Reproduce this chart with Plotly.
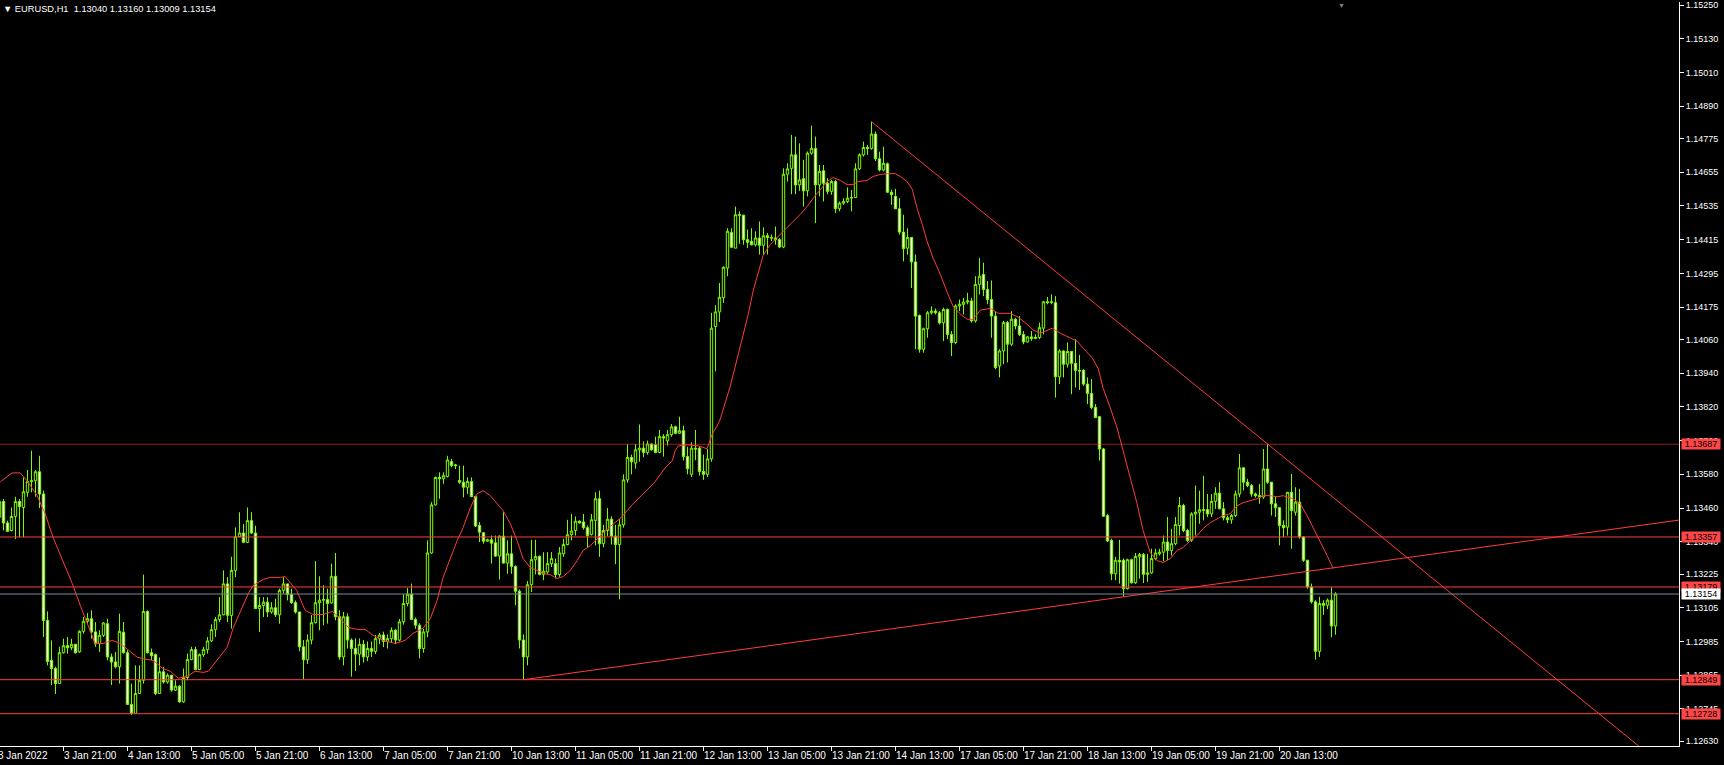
import plotly.graph_objects as go

# ---------------- data (EURUSD H1, bar 0 = 3 Jan 2022 05:00) ----------------
OPEN = [
    1.13427, 1.13483, 1.13407, 1.13380, 1.13430, 1.13483, 1.13462, 1.13516, 1.13554, 1.13557,
    1.13589, 1.13510, 1.13060, 1.12918, 1.12889, 1.12835, 1.12945, 1.12970, 1.12963, 1.12975,
    1.12948, 1.13021, 1.13057, 1.13066, 1.13019, 1.12977, 1.13007, 1.13048, 1.12930, 1.12912,
    1.12895, 1.13018, 1.12945, 1.12761, 1.12729, 1.12800, 1.12847, 1.13092, 1.12945, 1.12938,
    1.12800, 1.12877, 1.12841, 1.12865, 1.12812, 1.12826, 1.12770, 1.12857, 1.12921, 1.12956,
    1.12885, 1.12938, 1.12956, 1.12987, 1.13027, 1.13063, 1.13080, 1.13190, 1.13078, 1.13238,
    1.13358, 1.13371, 1.13338, 1.13415, 1.13371, 1.13102, 1.13113, 1.13125, 1.13090, 1.13105,
    1.13080, 1.13167, 1.13190, 1.13152, 1.13123, 1.13090, 1.12966, 1.12920, 1.12990, 1.13052,
    1.13123, 1.13132, 1.13134, 1.13122, 1.13217, 1.13073, 1.12930, 1.13073, 1.12990, 1.12960,
    1.12940, 1.12975, 1.12930, 1.12960, 1.12950, 1.12995, 1.13008, 1.12985, 1.12995, 1.13025,
    1.12990, 1.13055, 1.13120, 1.13153, 1.13063, 1.13043, 1.12960, 1.13019, 1.13300, 1.13471,
    1.13569, 1.13564, 1.13572, 1.13625, 1.13611, 1.13558, 1.13552, 1.13534, 1.13554, 1.13501,
    1.13398, 1.13372, 1.13342, 1.13347, 1.13336, 1.13289, 1.13360, 1.13264, 1.13297, 1.13252,
    1.13164, 1.12990, 1.12930, 1.13187, 1.13276, 1.13288, 1.13224, 1.13232, 1.13262, 1.13262,
    1.13223, 1.13297, 1.13330, 1.13366, 1.13380, 1.13413, 1.13410, 1.13390, 1.13366, 1.13416,
    1.13493, 1.13333, 1.13380, 1.13420, 1.13360, 1.13330, 1.13400, 1.13560, 1.13640, 1.13620,
    1.13667, 1.13673, 1.13658, 1.13688, 1.13685, 1.13658, 1.13714, 1.13699, 1.13721, 1.13749,
    1.13726, 1.13735, 1.13643, 1.13580, 1.13673, 1.13673, 1.13590, 1.13580, 1.13635, 1.14106,
    1.14158, 1.14208, 1.14314, 1.14441, 1.14385, 1.14504, 1.14502, 1.14415, 1.14409, 1.14397,
    1.14421, 1.14395, 1.14429, 1.14423, 1.14421, 1.14415, 1.14389, 1.14648, 1.14669, 1.14717,
    1.14610, 1.14632, 1.14589, 1.14723, 1.14740, 1.14610, 1.14660, 1.14616, 1.14587, 1.14622,
    1.14525, 1.14545, 1.14551, 1.14563, 1.14565, 1.14667, 1.14717, 1.14743, 1.14740, 1.14791,
    1.14703, 1.14663, 1.14685, 1.14584, 1.14569, 1.14525, 1.14442, 1.14385, 1.14423, 1.14336,
    1.14145, 1.14025, 1.14098, 1.14155, 1.14161, 1.14155, 1.14119, 1.14167, 1.14078, 1.14049,
    1.14179, 1.14185, 1.14193, 1.14197, 1.14126, 1.14256, 1.14291, 1.14238, 1.14202, 1.14143,
    1.13966, 1.14019, 1.14120, 1.14043, 1.14132, 1.14108, 1.14078, 1.14051, 1.14069, 1.14063,
    1.14067, 1.14100, 1.14194, 1.14191, 1.14191, 1.13927, 1.14019, 1.13972, 1.14017, 1.13975,
    1.13950, 1.13950, 1.13901, 1.13868, 1.13818, 1.13785, 1.13670, 1.13433, 1.13345, 1.13226,
    1.13274, 1.13274, 1.13173, 1.13276, 1.13194, 1.13286, 1.13295, 1.13224, 1.13229, 1.13280,
    1.13297, 1.13303, 1.13339, 1.13309, 1.13333, 1.13398, 1.13469, 1.13380, 1.13345, 1.13439,
    1.13445, 1.13451, 1.13454, 1.13439, 1.13484, 1.13513, 1.13457, 1.13425, 1.13418, 1.13433,
    1.13510, 1.13603, 1.13552, 1.13540, 1.13510, 1.13504, 1.13499, 1.13599, 1.13552, 1.13475,
    1.13461, 1.13398, 1.13392, 1.13516, 1.13445, 1.13481, 1.13357, 1.13274, 1.13179, 1.13126,
    1.12950, 1.13120, 1.13114, 1.13132, 1.13040,
]
HIGH = [
    1.13492, 1.13492, 1.13415, 1.13462, 1.13500, 1.13492, 1.13569, 1.13595, 1.13664, 1.13595,
    1.13646, 1.13522, 1.13092, 1.12989, 1.12895, 1.12966, 1.12995, 1.13001, 1.12995, 1.12975,
    1.13025, 1.13072, 1.13086, 1.13096, 1.13054, 1.13025, 1.13054, 1.13066, 1.12942, 1.12948,
    1.13084, 1.13054, 1.12954, 1.12835, 1.12900, 1.12900, 1.13223, 1.13096, 1.12960, 1.12942,
    1.12928, 1.12895, 1.12871, 1.12865, 1.12847, 1.12830, 1.12889, 1.12942, 1.12966, 1.12966,
    1.12942, 1.12966, 1.13001, 1.13046, 1.13072, 1.13143, 1.13238, 1.13214, 1.13287, 1.13391,
    1.13445, 1.13403, 1.13462, 1.13445, 1.13397, 1.13143, 1.13143, 1.13143, 1.13125, 1.13137,
    1.13173, 1.13214, 1.13190, 1.13173, 1.13131, 1.13090, 1.12990, 1.13010, 1.13079, 1.13271,
    1.13217, 1.13185, 1.13173, 1.13262, 1.13300, 1.13096, 1.13090, 1.13085, 1.12996, 1.12996,
    1.12996, 1.12990, 1.12985, 1.12985, 1.13008, 1.13015, 1.13020, 1.13010, 1.13035, 1.13030,
    1.13065, 1.13153, 1.13175, 1.13191, 1.13070, 1.13050, 1.13030, 1.13345, 1.13481, 1.13572,
    1.13587, 1.13587, 1.13646, 1.13635, 1.13617, 1.13611, 1.13611, 1.13569, 1.13569, 1.13504,
    1.13410, 1.13374, 1.13351, 1.13362, 1.13362, 1.13362, 1.13445, 1.13345, 1.13362, 1.13256,
    1.13170, 1.13010, 1.13200, 1.13347, 1.13347, 1.13291, 1.13303, 1.13303, 1.13303, 1.13280,
    1.13321, 1.13351, 1.13418, 1.13439, 1.13430, 1.13416, 1.13439, 1.13398, 1.13439, 1.13516,
    1.13522, 1.13400, 1.13460, 1.13430, 1.13400, 1.13420, 1.13580, 1.13687, 1.13650, 1.13688,
    1.13757, 1.13697, 1.13700, 1.13690, 1.13714, 1.13738, 1.13723, 1.13738, 1.13759, 1.13753,
    1.13785, 1.13753, 1.13678, 1.13694, 1.13738, 1.13680, 1.13650, 1.13670, 1.14155, 1.14182,
    1.14261, 1.14320, 1.14456, 1.14456, 1.14533, 1.14516, 1.14504, 1.14451, 1.14456, 1.14445,
    1.14480, 1.14459, 1.14439, 1.14433, 1.14462, 1.14421, 1.14669, 1.14687, 1.14788, 1.14782,
    1.14758, 1.14699, 1.14729, 1.14821, 1.14782, 1.14681, 1.14681, 1.14634, 1.14628, 1.14628,
    1.14551, 1.14563, 1.14601, 1.14592, 1.14687, 1.14722, 1.14764, 1.14752, 1.14835, 1.14800,
    1.14728, 1.14746, 1.14690, 1.14593, 1.14596, 1.14563, 1.14504, 1.14456, 1.14423, 1.14362,
    1.14149, 1.14102, 1.14161, 1.14178, 1.14170, 1.14161, 1.14173, 1.14170, 1.14090, 1.14185,
    1.14202, 1.14208, 1.14226, 1.14208, 1.14285, 1.14350, 1.14333, 1.14268, 1.14270, 1.14161,
    1.14025, 1.14126, 1.14126, 1.14161, 1.14137, 1.14143, 1.14090, 1.14072, 1.14090, 1.14078,
    1.14120, 1.14197, 1.14211, 1.14220, 1.14214, 1.14025, 1.14021, 1.14049, 1.14017, 1.14061,
    1.14005, 1.13954, 1.13925, 1.13919, 1.13830, 1.13788, 1.13674, 1.13439, 1.13351, 1.13286,
    1.13347, 1.13280, 1.13280, 1.13280, 1.13300, 1.13300, 1.13300, 1.13297, 1.13315, 1.13315,
    1.13315, 1.13362, 1.13428, 1.13386, 1.13428, 1.13499, 1.13475, 1.13386, 1.13445, 1.13540,
    1.13522, 1.13575, 1.13510, 1.13510, 1.13534, 1.13552, 1.13481, 1.13433, 1.13439, 1.13522,
    1.13652, 1.13605, 1.13564, 1.13546, 1.13515, 1.13546, 1.13670, 1.13688, 1.13552, 1.13499,
    1.13463, 1.13416, 1.13516, 1.13581, 1.13534, 1.13528, 1.13360, 1.13276, 1.13191, 1.13132,
    1.13144, 1.13132, 1.13138, 1.13178, 1.13160,
]
LOW = [
    1.13415, 1.13380, 1.13374, 1.13377, 1.13350, 1.13356, 1.13356, 1.13500, 1.13516, 1.13500,
    1.13460, 1.13001, 1.12900, 1.12830, 1.12798, 1.12835, 1.12942, 1.12942, 1.12954, 1.12942,
    1.12945, 1.13013, 1.13048, 1.12995, 1.12966, 1.12948, 1.13001, 1.12918, 1.12830, 1.12889,
    1.12835, 1.12942, 1.12759, 1.12723, 1.12729, 1.12798, 1.12835, 1.12942, 1.12918, 1.12794,
    1.12798, 1.12835, 1.12835, 1.12806, 1.12809, 1.12767, 1.12767, 1.12847, 1.12918, 1.12883,
    1.12883, 1.12930, 1.12942, 1.12983, 1.13001, 1.13054, 1.13078, 1.13054, 1.13031, 1.13214,
    1.13356, 1.13335, 1.13335, 1.13368, 1.13102, 1.13019, 1.13072, 1.13072, 1.13084, 1.13072,
    1.13048, 1.13155, 1.13131, 1.13119, 1.13084, 1.12950, 1.12850, 1.12905, 1.12975, 1.13049,
    1.13025, 1.13043, 1.13049, 1.13120, 1.13060, 1.12920, 1.12900, 1.12960, 1.12860, 1.12880,
    1.12900, 1.12910, 1.12915, 1.12930, 1.12940, 1.12975, 1.12965, 1.12960, 1.12980, 1.12975,
    1.12985, 1.13045, 1.13110, 1.13061, 1.13030, 1.12925, 1.12945, 1.13000, 1.13297, 1.13469,
    1.13493, 1.13546, 1.13569, 1.13605, 1.13599, 1.13546, 1.13498, 1.13510, 1.13498, 1.13392,
    1.13339, 1.13333, 1.13339, 1.13262, 1.13286, 1.13205, 1.13262, 1.13226, 1.13226, 1.13114,
    1.12960, 1.12849, 1.12900, 1.13161, 1.13224, 1.13220, 1.13203, 1.13226, 1.13250, 1.13209,
    1.13215, 1.13286, 1.13327, 1.13345, 1.13362, 1.13404, 1.13383, 1.13321, 1.13362, 1.13327,
    1.13286, 1.13320, 1.13360, 1.13330, 1.13260, 1.13135, 1.13390, 1.13550, 1.13580, 1.13600,
    1.13625, 1.13641, 1.13650, 1.13664, 1.13655, 1.13655, 1.13643, 1.13682, 1.13714, 1.13723,
    1.13723, 1.13629, 1.13580, 1.13570, 1.13630, 1.13575, 1.13560, 1.13570, 1.13625, 1.13946,
    1.14122, 1.14190, 1.14285, 1.14385, 1.14385, 1.14400, 1.14397, 1.14385, 1.14395, 1.14391,
    1.14362, 1.14362, 1.14362, 1.14410, 1.14397, 1.14385, 1.14385, 1.14622, 1.14577, 1.14577,
    1.14589, 1.14533, 1.14569, 1.14717, 1.14474, 1.14569, 1.14551, 1.14577, 1.14575, 1.14510,
    1.14516, 1.14539, 1.14545, 1.14516, 1.14563, 1.14663, 1.14711, 1.14717, 1.14735, 1.14695,
    1.14658, 1.14658, 1.14581, 1.14539, 1.14525, 1.14433, 1.14338, 1.14362, 1.14243, 1.14025,
    1.14013, 1.14013, 1.14066, 1.14149, 1.14149, 1.14113, 1.14054, 1.14061, 1.14001, 1.14043,
    1.14161, 1.14149, 1.14185, 1.14120, 1.14120, 1.14220, 1.14214, 1.14185, 1.14066, 1.13954,
    1.13925, 1.13972, 1.13978, 1.14037, 1.14096, 1.14072, 1.14043, 1.14049, 1.14055, 1.14061,
    1.14061, 1.14078, 1.14185, 1.14185, 1.13853, 1.13901, 1.13925, 1.13960, 1.13865, 1.13889,
    1.13880, 1.13895, 1.13830, 1.13812, 1.13780, 1.13629, 1.13428, 1.13339, 1.13203, 1.13203,
    1.13191, 1.13144, 1.13170, 1.13191, 1.13190, 1.13209, 1.13193, 1.13197, 1.13226, 1.13274,
    1.13291, 1.13271, 1.13274, 1.13291, 1.13327, 1.13362, 1.13374, 1.13339, 1.13339, 1.13362,
    1.13404, 1.13416, 1.13428, 1.13428, 1.13457, 1.13457, 1.13416, 1.13406, 1.13404, 1.13428,
    1.13499, 1.13522, 1.13534, 1.13500, 1.13497, 1.13475, 1.13493, 1.13546, 1.13433, 1.13428,
    1.13327, 1.13357, 1.13362, 1.13315, 1.13433, 1.13351, 1.13268, 1.13173, 1.13120, 1.12920,
    1.12930, 1.13080, 1.13100, 1.13000, 1.13009,
]
CLOSE = [
    1.13483, 1.13407, 1.13377, 1.13430, 1.13483, 1.13465, 1.13518, 1.13554, 1.13557, 1.13589,
    1.13510, 1.13060, 1.12914, 1.12889, 1.12835, 1.12945, 1.12970, 1.12963, 1.12975, 1.12945,
    1.13021, 1.13057, 1.13066, 1.13019, 1.12977, 1.13007, 1.13051, 1.12930, 1.12912, 1.12895,
    1.13021, 1.12945, 1.12761, 1.12729, 1.12800, 1.12847, 1.13092, 1.12945, 1.12934, 1.12800,
    1.12877, 1.12841, 1.12865, 1.12812, 1.12826, 1.12770, 1.12857, 1.12921, 1.12956, 1.12885,
    1.12938, 1.12956, 1.12987, 1.13027, 1.13063, 1.13080, 1.13190, 1.13078, 1.13238, 1.13358,
    1.13371, 1.13338, 1.13415, 1.13371, 1.13102, 1.13113, 1.13125, 1.13090, 1.13105, 1.13080,
    1.13167, 1.13190, 1.13152, 1.13123, 1.13090, 1.12966, 1.12920, 1.12990, 1.13052, 1.13123,
    1.13132, 1.13134, 1.13120, 1.13217, 1.13073, 1.12930, 1.13073, 1.12990, 1.12960, 1.12940,
    1.12975, 1.12930, 1.12960, 1.12950, 1.12995, 1.13008, 1.12985, 1.12995, 1.13025, 1.12990,
    1.13055, 1.13120, 1.13153, 1.13063, 1.13043, 1.12960, 1.13019, 1.13300, 1.13471, 1.13569,
    1.13564, 1.13575, 1.13631, 1.13611, 1.13613, 1.13552, 1.13534, 1.13554, 1.13501, 1.13396,
    1.13374, 1.13342, 1.13347, 1.13335, 1.13289, 1.13360, 1.13264, 1.13297, 1.13252, 1.13164,
    1.12990, 1.12930, 1.13187, 1.13276, 1.13288, 1.13224, 1.13235, 1.13262, 1.13280, 1.13223,
    1.13300, 1.13330, 1.13365, 1.13378, 1.13413, 1.13407, 1.13390, 1.13362, 1.13418, 1.13493,
    1.13333, 1.13380, 1.13420, 1.13360, 1.13330, 1.13400, 1.13560, 1.13640, 1.13625, 1.13667,
    1.13673, 1.13658, 1.13688, 1.13667, 1.13658, 1.13714, 1.13709, 1.13721, 1.13749, 1.13726,
    1.13735, 1.13643, 1.13600, 1.13673, 1.13670, 1.13590, 1.13580, 1.13635, 1.14100, 1.14158,
    1.14210, 1.14317, 1.14445, 1.14388, 1.14504, 1.14502, 1.14415, 1.14406, 1.14397, 1.14421,
    1.14395, 1.14429, 1.14423, 1.14421, 1.14415, 1.14389, 1.14648, 1.14667, 1.14717, 1.14610,
    1.14628, 1.14589, 1.14723, 1.14740, 1.14610, 1.14658, 1.14616, 1.14587, 1.14622, 1.14525,
    1.14545, 1.14551, 1.14563, 1.14565, 1.14667, 1.14717, 1.14743, 1.14740, 1.14791, 1.14703,
    1.14663, 1.14687, 1.14584, 1.14575, 1.14525, 1.14442, 1.14383, 1.14423, 1.14336, 1.14143,
    1.14025, 1.14098, 1.14155, 1.14161, 1.14155, 1.14119, 1.14167, 1.14078, 1.14049, 1.14179,
    1.14185, 1.14193, 1.14197, 1.14126, 1.14256, 1.14285, 1.14238, 1.14202, 1.14143, 1.13960,
    1.14019, 1.14120, 1.14043, 1.14132, 1.14108, 1.14078, 1.14051, 1.14069, 1.14063, 1.14067,
    1.14102, 1.14194, 1.14191, 1.14194, 1.13927, 1.14019, 1.13972, 1.14017, 1.13975, 1.13950,
    1.13948, 1.13901, 1.13868, 1.13818, 1.13782, 1.13670, 1.13431, 1.13343, 1.13226, 1.13274,
    1.13268, 1.13173, 1.13276, 1.13194, 1.13288, 1.13295, 1.13224, 1.13229, 1.13280, 1.13300,
    1.13303, 1.13339, 1.13309, 1.13333, 1.13401, 1.13469, 1.13380, 1.13345, 1.13439, 1.13445,
    1.13454, 1.13454, 1.13439, 1.13484, 1.13513, 1.13457, 1.13425, 1.13418, 1.13433, 1.13510,
    1.13603, 1.13552, 1.13540, 1.13510, 1.13504, 1.13500, 1.13599, 1.13552, 1.13475, 1.13461,
    1.13398, 1.13390, 1.13516, 1.13451, 1.13481, 1.13357, 1.13274, 1.13179, 1.13126, 1.12950,
    1.13120, 1.13114, 1.13132, 1.13040, 1.13154,
]

# moving average (red curve), read at sampled bar positions
MA_BARS = [
    0.2, 3.1, 5.2, 6.9, 9.4, 11.4, 13.4, 15.9, 18.2, 20.2,
    21.9, 23.9, 25.9, 28.2, 30.2, 32.2, 34.4, 36.4, 38.4, 40.7,
    42.7, 44.7, 46.9, 48.9, 50.9, 52.2, 54.4, 56.9, 58.4, 60.2,
    62.2, 63.4, 65.9, 67.7, 70.2, 71.4, 72.7, 74.3, 76.4, 78.4,
    80.9, 83.2, 85.2, 87.2, 89.4, 91.4, 93.4, 95.9, 98.9, 101.4,
    103.4, 105.9, 107.7, 109.4, 110.9, 112.7, 114.4, 115.9, 117.7, 119.4,
    120.9, 122.7, 124.4, 125.9, 127.7, 129.4, 130.9, 132.7, 134.4, 135.9,
    137.7, 139.4, 140.9, 142.7, 144.4, 145.9, 147.7, 149.4, 150.2, 152.7,
    155.4, 158.2, 160.9, 163.7, 166.4, 168.2, 168.9, 169.7, 172.0, 174.7,
    176.9, 178.2, 179.4, 180.2, 182.7, 184.9, 185.9, 187.2, 188.4, 189.7,
    190.9, 192.7, 195.2, 196.9, 198.4, 200.2, 201.9, 203.4, 205.2, 206.9,
    208.4, 210.2, 211.9, 213.4, 214.7, 216.9, 218.4, 220.2, 221.9, 223.9,
    225.2, 226.9, 228.2, 229.4, 230.7, 231.9, 233.4, 235.2, 236.9, 238.4,
    240.2, 241.9, 243.4, 245.2, 247.7, 249.7, 252.7, 254.7, 256.9, 258.4,
    260.2, 261.9, 263.2, 265.2, 267.7, 269.4, 270.9, 273.2, 274.7, 275.9,
    277.7, 279.4, 280.9, 282.7, 284.4, 285.9, 287.7, 289.4, 290.9, 292.7,
    294.4, 295.9, 297.7, 299.4, 300.9, 302.7, 304.4, 305.9, 307.7, 309.4,
    310.9, 312.7, 314.4, 315.9, 317.7, 319.4, 320.9, 323.4, 325.2, 326.9,
    328.4, 330.2, 331.9, 333.4,
]
MA_VALS = [
    1.13553, 1.13585, 1.13585, 1.13557, 1.13504, 1.13440, 1.13355, 1.13273, 1.13191, 1.13113,
    1.13049, 1.12978, 1.12978, 1.12989, 1.12978, 1.12954, 1.12929, 1.12922, 1.12918, 1.12890,
    1.12879, 1.12854, 1.12861, 1.12879, 1.12875, 1.12879, 1.12918, 1.12964, 1.13032, 1.13088,
    1.13156, 1.13184, 1.13206, 1.13213, 1.13213, 1.13216, 1.13195, 1.13167, 1.13096, 1.13081,
    1.13081, 1.13092, 1.13067, 1.13035, 1.13028, 1.13028, 1.13007, 1.12989, 1.12978, 1.12989,
    1.13014, 1.13032, 1.13067, 1.13131, 1.13213, 1.13284, 1.13344, 1.13390, 1.13461, 1.13511,
    1.13522, 1.13504, 1.13475, 1.13451, 1.13404, 1.13344, 1.13280, 1.13248, 1.13238, 1.13227,
    1.13223, 1.13209, 1.13216, 1.13238, 1.13273, 1.13309, 1.13326, 1.13351, 1.13362, 1.13394,
    1.13426, 1.13472, 1.13511, 1.13550, 1.13603, 1.13628, 1.13664, 1.13681, 1.13685, 1.13681,
    1.13671, 1.13724, 1.13752, 1.13777, 1.13894, 1.14019, 1.14079, 1.14150, 1.14232, 1.14303,
    1.14359, 1.14398, 1.14434, 1.14462, 1.14480, 1.14505, 1.14533, 1.14562, 1.14594, 1.14622,
    1.14636, 1.14626, 1.14611, 1.14611, 1.14622, 1.14626, 1.14640, 1.14647, 1.14650, 1.14650,
    1.14640, 1.14622, 1.14594, 1.14526, 1.14469, 1.14409, 1.14349, 1.14292, 1.14228, 1.14178,
    1.14150, 1.14132, 1.14132, 1.14164, 1.14171, 1.14153, 1.14153, 1.14139, 1.14114, 1.14093,
    1.14082, 1.14093, 1.14100, 1.14082, 1.14065, 1.14054, 1.14029, 1.13994, 1.13955, 1.13887,
    1.13816, 1.13745, 1.13664, 1.13568, 1.13475, 1.13380, 1.13301, 1.13273, 1.13266, 1.13280,
    1.13309, 1.13319, 1.13344, 1.13362, 1.13387, 1.13408, 1.13422, 1.13433, 1.13440, 1.13468,
    1.13479, 1.13486, 1.13493, 1.13504, 1.13504, 1.13500, 1.13504, 1.13493, 1.13475, 1.13433,
    1.13390, 1.13344, 1.13291, 1.13245,
]

# time axis labels (every 16 bars)
TICK_BARS = [16, 32, 48, 64, 80, 96, 112, 128, 144, 160,
             176, 192, 208, 224, 240, 256, 272, 288, 304, 320]
TICK_TEXT = ["3 Jan 21:00", "4 Jan 13:00", "5 Jan 05:00", "5 Jan 21:00", "6 Jan 13:00",
             "7 Jan 05:00", "7 Jan 21:00", "10 Jan 13:00", "11 Jan 05:00", "11 Jan 21:00",
             "12 Jan 13:00", "13 Jan 05:00", "13 Jan 21:00", "14 Jan 13:00", "17 Jan 05:00",
             "17 Jan 21:00", "18 Jan 13:00", "19 Jan 05:00", "19 Jan 21:00", "20 Jan 13:00"]
FIRST_LABEL = "3 Jan 2022"

Y_TICKS = [1.15250, 1.15130, 1.15010, 1.14890, 1.14775, 1.14655, 1.14535, 1.14415,
           1.14295, 1.14175, 1.14060, 1.13940, 1.13820, 1.13700, 1.13580, 1.13460,
           1.13340, 1.13225, 1.13105, 1.12985, 1.12865, 1.12745, 1.12630]

LEVELS = [1.13687, 1.13357, 1.13179, 1.12849, 1.12728]
LEVEL_OPACITY = [0.55, 1, 1, 1, 1]
BID = 1.13154

TREND_UP_BARS = [131, 281]
TREND_UP_PRICES = [1.12849, 1.13144]
TREND_DN_BARS = [218, 317]
TREND_DN_PRICES = [1.14835, 1.13688]

SYMBOL = "EURUSD,H1"
X_RANGE = [0.125, 419.875]
Y_RANGE = [1.12613, 1.15261]

# ---------------- styling ----------------
GREEN = "#7CFC00"
RED = "#ff3c3c"
TAG_RED = "#ff4646"
GRAY = "#7b8797"
FONT = "Liberation Sans, Arial, sans-serif"

bars = list(range(len(CLOSE)))

fig = go.Figure()
fig.add_trace(go.Candlestick(
    x=bars, open=OPEN, high=HIGH, low=LOW, close=CLOSE,
    increasing=dict(line=dict(color=GREEN, width=1), fillcolor="black"),
    decreasing=dict(line=dict(color=GREEN, width=1), fillcolor="white"),
    whiskerwidth=0, hoverinfo="skip", showlegend=False,
))
fig.add_trace(go.Scatter(
    x=MA_BARS, y=MA_VALS, mode="lines",
    line=dict(color=RED, width=1), hoverinfo="skip", showlegend=False,
))


def extended(bx, py, x_end):
    slope = (py[1] - py[0]) / (bx[1] - bx[0])
    return [bx[0], bx[1], x_end], [py[0], py[1], py[0] + slope * (x_end - bx[0])]


for bx, py in ((TREND_UP_BARS, TREND_UP_PRICES), (TREND_DN_BARS, TREND_DN_PRICES)):
    xs, ys = extended(bx, py, X_RANGE[1])
    fig.add_trace(go.Scatter(x=xs, y=ys, mode="lines", line=dict(color=RED, width=1),
                             hoverinfo="skip", showlegend=False))

shapes = []
for lv, op in zip(LEVELS, LEVEL_OPACITY):
    shapes.append(dict(type="line", xref="paper", x0=0, x1=1, yref="y", y0=lv, y1=lv,
                       opacity=op, line=dict(color=RED, width=1)))
shapes.append(dict(type="line", xref="paper", x0=0, x1=1, yref="y", y0=BID, y1=BID,
                   line=dict(color=GRAY, width=1)))

annotations = []
# price tags on the right scale
for lv in LEVELS:
    annotations.append(dict(xref="paper", x=1, xanchor="left", xshift=2, yref="y", y=lv,
                            yanchor="middle", text=f"{lv:.5f}", showarrow=False,
                            bgcolor=TAG_RED, borderpad=0, width=38, height=10,
                            font=dict(family=FONT, size=9, color="black")))
annotations.append(dict(xref="paper", x=1, xanchor="left", xshift=2, yref="y", y=BID,
                        yanchor="middle", text=f"{BID:.5f}", showarrow=False,
                        bgcolor="white", borderpad=0, width=38, height=10,
                        font=dict(family=FONT, size=9, color="black")))
# time labels
XLAB_SIZE = 10
for b, t in zip(TICK_BARS, TICK_TEXT):
    annotations.append(dict(xref="x", x=b, xanchor="left", xshift=-2, yref="paper", y=0,
                            yanchor="top", yshift=-2, text=t, showarrow=False,
                            font=dict(family=FONT, size=XLAB_SIZE, color="white")))
annotations.append(dict(xref="paper", x=0, xanchor="left", xshift=-4, yref="paper", y=0,
                        yanchor="top", yshift=-2, text=FIRST_LABEL, showarrow=False,
                        font=dict(family=FONT, size=XLAB_SIZE, color="white")))
# header
header = "\u25bc " + SYMBOL + "\u00a0\u00a0" + " ".join(
    f"{v:.5f}" for v in (OPEN[-1], HIGH[-1], LOW[-1], CLOSE[-1]))
annotations.append(dict(xref="paper", x=0, xanchor="left", xshift=1, yref="paper", y=1,
                        yanchor="top", yshift=0, text=header, showarrow=False,
                        font=dict(family=FONT, size=9.3, color="white")))
# chart shift marker
annotations.append(dict(xref="paper", x=0.7987, xanchor="center", yref="paper", y=1,
                        yanchor="top", yshift=2, text="\u25bc", showarrow=False,
                        font=dict(family=FONT, size=7, color="#808080")))

fig.update_layout(
    width=1724, height=765,
    margin=dict(l=0, r=45, t=0, b=19, pad=0),
    paper_bgcolor="black", plot_bgcolor="black",
    showlegend=False, hovermode=False,
    boxgap=0.4, boxgroupgap=0,
    font=dict(family=FONT, size=9, color="white"),
    shapes=shapes, annotations=annotations,
    xaxis=dict(range=X_RANGE, showgrid=False, zeroline=False, showline=True,
               linecolor="white", linewidth=1, ticks="outside", ticklen=4,
               tickcolor="white", tickwidth=1, tickvals=TICK_BARS,
               showticklabels=False, rangeslider=dict(visible=False), fixedrange=True),
    yaxis=dict(side="right", range=Y_RANGE, showgrid=False, zeroline=False,
               showline=True, linecolor="white", linewidth=1, ticks="outside",
               ticklen=4, tickcolor="white", tickwidth=1, tickvals=Y_TICKS,
               ticktext=[f"{v:.5f}" for v in Y_TICKS], ticklabeloverflow="allow",
               tickfont=dict(family=FONT, size=9, color="white"), fixedrange=True),
)

fig.write_html(
    "out.html",
    config={"displayModeBar": False},
    post_script="document.body.style.margin='0';document.body.style.overflow='hidden';"
                "document.body.style.background='black';",
)
